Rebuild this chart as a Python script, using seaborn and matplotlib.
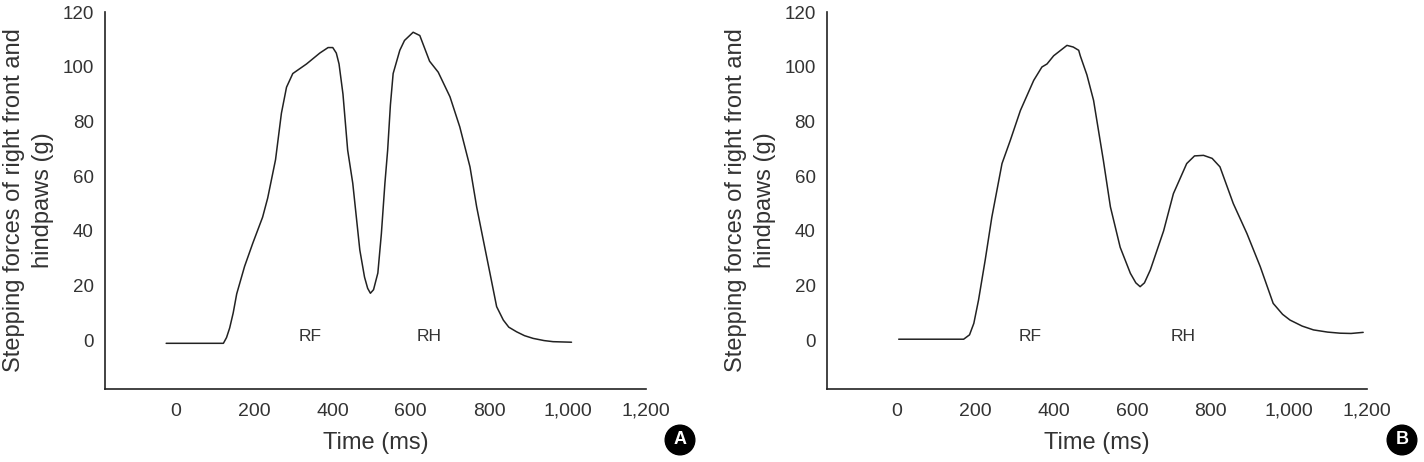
import numpy as np
import pandas as pd
import seaborn as sns
import matplotlib
matplotlib.use("Agg")
import matplotlib.pyplot as plt

# ---------------- data ----------------
time_a = [-24, 122, 130, 138, 147, 156, 176, 197, 222, 235, 255, 270, 283, 299, 334, 368,
          389, 401, 410, 417, 427, 439, 452, 470, 482, 490, 497, 505, 516, 525,
          534, 541, 548, 555, 572, 584, 606, 623, 648, 670, 700, 725, 751, 768, 785, 802, 819, 836,
          850, 870, 890, 912, 940, 963, 1010]
force_a = [-1.1, -1.1, 1.0, 4.5, 10, 17, 27, 35.5, 45, 52, 66, 83, 92.5, 97.5, 101, 105,
           107, 107, 105, 101, 90, 69.5, 57.4, 33, 23.1, 19, 17.2, 18.5, 24.6, 39,
           57.4, 69.5, 86, 97.5, 106, 109.6, 112.6, 111.4, 102, 98, 89, 78, 63.4, 48.8, 36.6, 24.5, 12.3, 7.4,
           4.8, 3.1, 1.7, 0.7, -0.1, -0.5, -0.7]

time_b = [4, 170, 185, 196, 208, 225, 242, 268, 289, 315, 349, 370, 383, 400, 434, 450,
          464, 468, 485, 502, 527, 545, 570, 596, 610, 621, 632, 647, 681, 706, 740, 760,
          783, 805, 825, 859, 894, 928, 961, 985, 1004, 1035, 1064, 1100, 1132, 1160, 1191]
force_b = [0.4, 0.4, 2.0, 6.2, 14.7, 29.3, 45, 64.6, 73, 84, 95, 99.9, 101, 104, 107.8, 107.2,
           106, 104, 97, 87.7, 65.8, 48.8, 34, 24.5, 21, 19.6, 21, 25.7, 40, 53.6, 64.6, 67.4,
           67.6, 66.5, 63.4, 50, 39, 26.9, 13.5, 9.5, 7.4, 5.2, 3.8, 3.0, 2.6, 2.5, 2.9]

y_ticks = [0, 20, 40, 60, 80, 100, 120]
x_ticks = [0, 200, 400, 600, 800, 1000, 1200]
x_ticklabels = ["0", "200", "400", "600", "800", "1,000", "1,200"]
phase_labels = ["RF", "RH"]
phase_x_a = [342, 646]
phase_x_b = [340, 731]
panel_letters = ["A", "B"]
y_label = "Stepping forces of right front and\nhindpaws (g)"
x_label = "Time (ms)"

# ---------------- style ----------------
sns.set_theme(style="white")
plt.rcParams["font.family"] = ["Liberation Sans", "DejaVu Sans"]

ink = "#222222"
txt = "#333333"
fig = plt.figure(figsize=(14.24, 4.62), dpi=100)

axes_rects = [
    [105 / 1424, (462 - 389) / 462, 541 / 1424, 377 / 462],
    [826.7 / 1424, (462 - 389) / 462, 540 / 1424, 377 / 462],
]

datasets = [
    (time_a, force_a, phase_x_a),
    (time_b, force_b, phase_x_b),
]

badge_pos = [(680 / 1424, 1 - 440 / 462), (1402 / 1424, 1 - 440 / 462)]

for i, (tx, fy, px) in enumerate(datasets):
    ax = fig.add_axes(axes_rects[i])
    df = pd.DataFrame({"time": tx, "force": fy})
    sns.lineplot(data=df, x="time", y="force", ax=ax, color=ink, linewidth=1.1,
                 estimator=None, sort=False)
    ax.set_xlim(-180, 1200)
    ax.set_ylim(-17.8, 120)
    ax.set_xticks(x_ticks)
    ax.set_xticklabels(x_ticklabels)
    ax.set_yticks(y_ticks)
    for s in ["top", "right"]:
        ax.spines[s].set_visible(False)
    for s in ["left", "bottom"]:
        ax.spines[s].set_color(ink)
        ax.spines[s].set_linewidth(1.2)
    ax.tick_params(direction="in", length=7, width=1.2, color=ink, labelcolor=txt)
    ax.tick_params(axis="x", pad=10, labelsize=14)
    ax.tick_params(axis="y", pad=8, labelsize=13.5)
    ax.set_xlabel(x_label, fontsize=17, color=txt, labelpad=9)
    ax.set_ylabel(y_label, fontsize=17, color=txt, labelpad=6, linespacing=1.4)
    for lab, xx in zip(phase_labels, px):
        ax.text(xx, 1.5, lab, ha="center", va="center", fontsize=12.5, color=txt)
    fig.text(badge_pos[i][0], badge_pos[i][1], panel_letters[i], ha="center", va="center",
             fontsize=13, fontweight="bold", color="white",
             bbox=dict(boxstyle="circle,pad=0.35", fc="black", ec="black"))

fig.savefig("out.png", dpi=100)
